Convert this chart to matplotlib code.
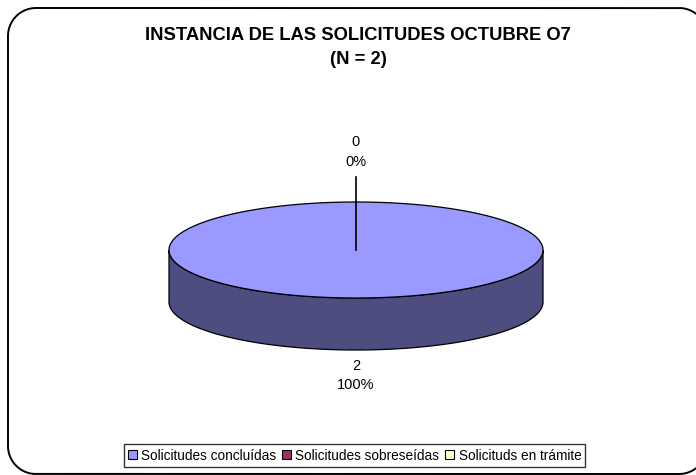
import numpy as np
import matplotlib
matplotlib.use("Agg")
import matplotlib.pyplot as plt
from matplotlib.patches import Polygon, Patch

categories = ["Solicitudes concluídas", "Solicitudes sobreseídas", "Solicituds en trámite"]
values = [2, 0, 0]
title_lines = ["INSTANCIA DE LAS SOLICITUDES OCTUBRE O7", "(N = 2)"]
top_colors = ["#9999FF", "#993366", "#FFFFCC"]
side_colors = ["#4D4D80", "#4D1A33", "#808066"]

plt.rcParams["font.family"] = ["Liberation Sans", "DejaVu Sans"]

W, H = 696, 475
fig = plt.figure(figsize=(W / 100, H / 100), dpi=100)
ax = fig.add_axes([0, 0, 1, 1])
ax.set_xlim(0, W)
ax.set_ylim(H, 0)
ax.axis("off")

# outer rounded border (drawn as path in pixel space)
x0, y0, x1, y1, r = 8, 8, 707, 474, 28
def arc(cxa, cya, a0, a1):
    t = np.deg2rad(np.linspace(a0, a1, 40))
    return cxa + r * np.cos(t), cya + r * np.sin(t)
segs = [arc(x0 + r, y0 + r, 180, 270), arc(x1 - r, y0 + r, 270, 360),
        arc(x1 - r, y1 - r, 0, 90), arc(x0 + r, y1 - r, 90, 180)]
bx = np.concatenate([s[0] for s in segs] + [[segs[0][0][0]]])
by = np.concatenate([s[1] for s in segs] + [[segs[0][1][0]]])
ax.plot(bx, by, color="black", linewidth=1.4, clip_on=False, solid_capstyle="round")

# title
ax.text(358, 35, title_lines[0], ha="center", va="center", fontsize=13.2, fontweight="bold")
ax.text(358, 59, title_lines[1], ha="center", va="center", fontsize=13.2, fontweight="bold")

# 3D pie geometry
cx, cy, rx, ry, depth = 356, 250, 187, 48, 52
total = sum(values)

def pt(theta):
    t = np.deg2rad(theta)
    return cx + rx * np.sin(t), cy - ry * np.cos(t)

start = 0.0
slices = []
for v in values:
    ang = 360.0 * v / total
    slices.append((start, start + ang))
    start += ang

for (a0, a1), sc in zip(slices, side_colors):
    if a1 - a0 <= 0:
        continue
    lo, hi = max(a0, 90), min(a1, 270)
    if hi > lo:
        th = np.linspace(lo, hi, 200)
        xs, ys = pt(th)
        poly = np.column_stack([np.concatenate([xs, xs[::-1]]),
                                np.concatenate([ys, ys[::-1] + depth])])
        ax.add_patch(Polygon(poly, closed=True, facecolor=sc, edgecolor="black", linewidth=0.9))

for (a0, a1), tc in zip(slices, top_colors):
    if a1 - a0 <= 0:
        continue
    th = np.linspace(a0, a1, 400)
    xs, ys = pt(th)
    if a1 - a0 < 360:
        xs = np.concatenate([[cx], xs]); ys = np.concatenate([[cy], ys])
    ax.add_patch(Polygon(np.column_stack([xs, ys]), closed=True, facecolor=tc,
                         edgecolor="black", linewidth=0.9))

# labels
pct = [100.0 * v / total for v in values]
zero_idx = [i for i, v in enumerate(values) if v == 0]
if zero_idx:
    i = zero_idx[0]
    ax.plot([cx, cx], [cy, 177], color="black", linewidth=1.2)
    ax.text(cx, 142, f"{values[i]}", ha="center", va="center", fontsize=10.5)
    ax.text(cx, 162, f"{pct[i]:.0f}%", ha="center", va="center", fontsize=10.5)
i = int(np.argmax(values))
ax.text(cx, 366, f"{values[i]}", ha="center", va="center", fontsize=10.5)
ax.text(cx, 385, f"{pct[i]:.0f}%", ha="center", va="center", fontsize=10.5)

# legend
handles = [Patch(facecolor=c, edgecolor="black", linewidth=0.8) for c in top_colors]
leg = ax.legend(handles, categories, ncol=3, loc="center", bbox_to_anchor=(354.5 / W, 1 - 455.5 / H),
                frameon=True, fancybox=False, fontsize=9.8, handlelength=0.65, handleheight=0.65,
                handletextpad=0.35, columnspacing=0.4, borderpad=0.3, borderaxespad=0)
leg.get_frame().set_edgecolor("black")
leg.get_frame().set_linewidth(1.0)

fig.savefig("out.png", dpi=100)
